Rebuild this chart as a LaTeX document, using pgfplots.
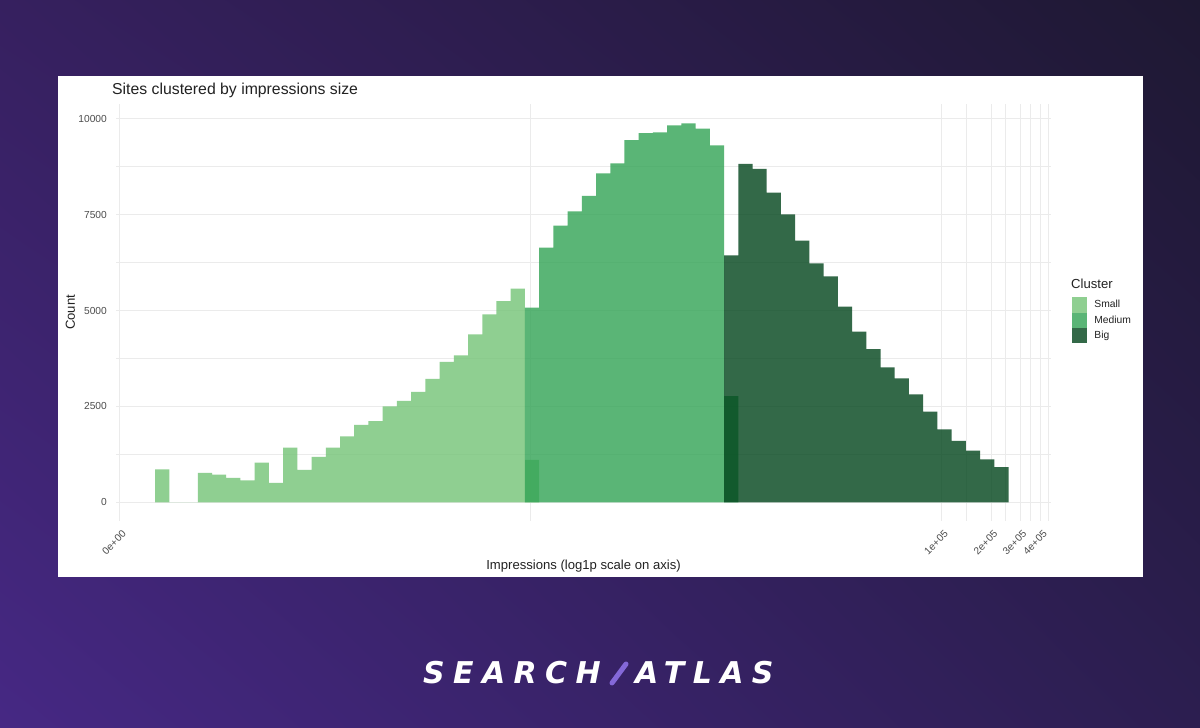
\documentclass[border=0pt]{standalone}
\usepackage{pgfplots}
\pgfplotsset{compat=1.18}
\usetikzlibrary{shadings}
\usepackage{fontspec}
\setmainfont{Liberation Sans}
\newfontfamily\logofont[LetterSpace=28]{DejaVu Sans}

\definecolor{csmall}{HTML}{74C476}
\definecolor{cmedium}{HTML}{31A354}
\definecolor{cbig}{HTML}{00441B}
\definecolor{gridc}{HTML}{EBEBEB}
\definecolor{tickc}{HTML}{4D4D4D}
\definecolor{txtc}{HTML}{222222}
\definecolor{slashc}{HTML}{8468D8}
\definecolor{bgul}{HTML}{36205F}
\definecolor{bgur}{HTML}{1E1832}
\definecolor{bgll}{HTML}{462884}
\definecolor{bglr}{HTML}{2C1E50}

\begin{document}
\begin{tikzpicture}
\begin{scope}[x=1bp,y=1bp]
  \shade[upper left=bgul, upper right=bgur, lower left=bgll, lower right=bglr] (0,0) rectangle (1200,728);
  \fill[white] (58,151) rectangle (1143,652);
\end{scope}

\begin{axis}[
    at={(116bp,207bp)}, anchor=south west,
    scale only axis, width=935bp, height=417bp,
    xmin=-0.0518, xmax=13.043, ymin=-482, ymax=10378,
    scaled x ticks=false, scaled y ticks=false,
    axis line style={draw=none},
    major tick length=0pt, minor tick length=0pt,
    xtick={0,11.5129,12.2061,12.6115,12.8992},
    xticklabels={0e+00,1e+05,2e+05,3e+05,4e+05},
    minor xtick={5.7565,11.8595,12.4088,12.7554,13.0106},
    ytick={0,2500,5000,7500,10000},
    yticklabels={0,2500,5000,7500,10000},
    minor ytick={1250,3750,6250,8750},
    grid=both,
    major grid style={gridc, line width=0.9bp},
    minor grid style={gridc, line width=0.5bp},
    tick label style={font=\fontsize{10.2bp}{12bp}\selectfont, text=tickc},
    yticklabel style={anchor=east, inner sep=0pt, xshift=-9bp},
    xticklabel style={rotate=45, anchor=north east, inner sep=0pt, xshift=-4.7bp, yshift=-7.3bp},
    xlabel={Impressions (log1p scale on axis)},
    xlabel style={at={(rel axis cs:0.5,-0.1175)}, anchor=base, inner sep=0pt,
                  text=txtc, font=\fontsize{13.1bp}{15bp}\selectfont},
    ylabel={Count},
    ylabel style={at={(rel axis cs:-0.0439,0.5)}, anchor=base, inner sep=0pt,
                  text=txtc, font=\fontsize{13.1bp}{15bp}\selectfont},
    legend style={at={(rel axis cs:1.0218,0.5369)}, anchor=north west, draw=none, fill=none,
                  inner sep=0pt, row sep=0pt, column sep=6.5bp, text=txtc,
                  font=\fontsize{10.3bp}{12bp}\selectfont, nodes={inner sep=0.9bp, anchor=west}},
    legend cell align=left,
    legend image code/.code={\fill[#1] (0bp,-7.6bp) rectangle (15.4bp,7.6bp);},
    every axis plot/.append style={const plot, draw=none, fill opacity=0.8},
]
% Small
\addplot[fill=csmall] coordinates {
(0.4960,865) (0.6952,0) (0.8944,0) (1.0936,768) (1.2928,724) (1.4920,638) (1.6912,577)
(1.8904,1037) (2.0896,508) (2.2888,1428) (2.4880,846) (2.6872,1185) (2.8864,1428)
(3.0856,1723) (3.2848,2018) (3.4840,2122) (3.6832,2504) (3.8824,2643) (4.0816,2878)
(4.2808,3216) (4.4800,3662) (4.6792,3832) (4.8784,4380) (5.0776,4900) (5.2768,5247)
(5.4760,5568) (5.6752,1107) (5.8744,1107)
} \closedcycle;
% Medium
\addplot[fill=cmedium] coordinates {
(5.6752,5073) (5.8744,6636) (6.0736,7209) (6.2728,7582) (6.4720,7982) (6.6712,8572)
(6.8704,8832) (7.0696,9440) (7.2688,9620) (7.4680,9640) (7.6672,9822) (7.8664,9874)
(8.0656,9735) (8.2648,9301) (8.4640,2773) (8.6632,2773)
} \closedcycle;
% Big
\addplot[fill=cbig] coordinates {
(8.4640,6436) (8.6632,8815) (8.8624,8685) (9.0616,8068) (9.2608,7505) (9.4600,6818)
(9.6592,6229) (9.8584,5891) (10.0576,5099) (10.2568,4448) (10.4560,3997) (10.6552,3520)
(10.8544,3234) (11.0536,2817) (11.2528,2365) (11.4520,1905) (11.6512,1602) (11.8504,1350)
(12.0496,1124) (12.2488,924) (12.4480,924)
} \closedcycle;
\legend{Small,Medium,Big}
\end{axis}

\begin{scope}[x=1bp,y=1bp]
  \node[anchor=base west, inner sep=0pt, text=txtc, font=\fontsize{15.8bp}{18bp}\selectfont] at (112,633.5) {Sites clustered by impressions size};
  \node[anchor=base west, inner sep=0pt, text=txtc, font=\fontsize{13.1bp}{15bp}\selectfont] at (1071,439.7) {Cluster};
  \node[anchor=base west, inner sep=0pt, text=white, font=\logofont\bfseries\itshape\fontsize{30bp}{32bp}\selectfont] at (423,44) {SEARCH};
  \draw[slashc, line width=5bp, line cap=round] (612,45) -- (626,64);
  \node[anchor=base west, inner sep=0pt, text=white, font=\logofont\bfseries\itshape\fontsize{30bp}{32bp}\selectfont] at (635,44) {ATLAS};
\end{scope}
\end{tikzpicture}
\end{document}
